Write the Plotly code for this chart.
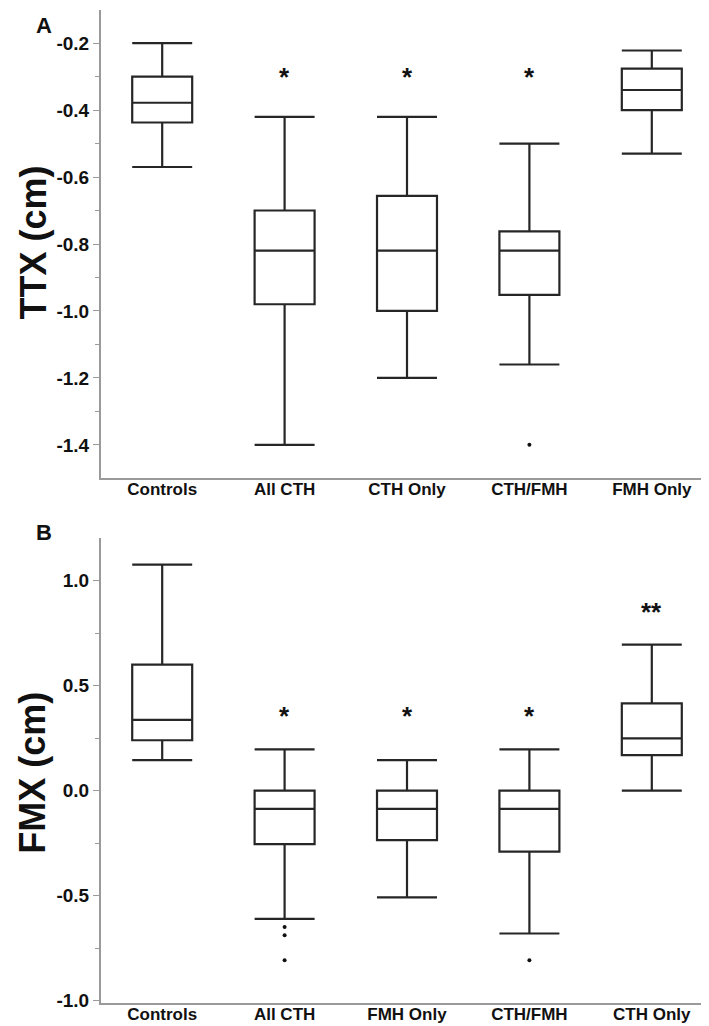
import plotly.graph_objects as go

# ---------------- Panel A data (TTX, cm) ----------------
cats_a = ["Controls", "All CTH", "CTH Only", "CTH/FMH", "FMH Only"]
lower_a = [-0.57, -1.40, -1.20, -1.16, -0.53]
q1_a = [-0.437, -0.98, -1.00, -0.952, -0.40]
med_a = [-0.378, -0.82, -0.82, -0.82, -0.34]
q3_a = [-0.30, -0.70, -0.656, -0.762, -0.276]
upper_a = [-0.20, -0.42, -0.42, -0.50, -0.222]
out_a_x = ["CTH/FMH"]
out_a_y = [-1.40]
sig_a = ["", "*", "*", "*", ""]
sig_y_a = [None, -0.30, -0.30, -0.30, None]
ytick_a = [-0.2, -0.4, -0.6, -0.8, -1.0, -1.2, -1.4]
ylab_a = ["-0.2", "-0.4", "-0.6", "-0.8", "-1.0", "-1.2", "-1.4"]

# ---------------- Panel B data (FMX, cm) ----------------
cats_b = ["Controls", "All CTH", "FMH Only", "CTH/FMH", "CTH Only"]
lower_b = [0.145, -0.61, -0.508, -0.68, 0.0]
q1_b = [0.24, -0.255, -0.236, -0.29, 0.169]
med_b = [0.337, -0.087, -0.087, -0.087, 0.249]
q3_b = [0.60, 0.0, 0.0, 0.0, 0.416]
upper_b = [1.076, 0.197, 0.145, 0.197, 0.695]
out_b_x = ["All CTH", "All CTH", "All CTH", "CTH/FMH"]
out_b_y = [-0.649, -0.689, -0.808, -0.808]
sig_b = ["", "*", "*", "*", "**"]
sig_y_b = [None, 0.355, 0.355, 0.355, 0.85]
ytick_b = [1.0, 0.5, 0.0, -0.5, -1.0]
ylab_b = ["1.0", "0.5", "0.0", "-0.5", "-1.0"]

LINE = "#262626"
AXIS = "#9a9a9a"
FONT = "Liberation Sans, Arial, sans-serif"

fig = go.Figure()


def add_boxes(cats, lo, q1, med, q3, hi, xa, ya):
    for i, c in enumerate(cats):
        fig.add_trace(go.Box(
            x=[c], q1=[q1[i]], median=[med[i]], q3=[q3[i]],
            lowerfence=[lo[i]], upperfence=[hi[i]],
            width=0.49, whiskerwidth=1,
            line=dict(color=LINE, width=2.2),
            fillcolor="rgba(0,0,0,0)",
            boxpoints=False, showlegend=False,
            xaxis=xa, yaxis=ya,
        ))


add_boxes(cats_a, lower_a, q1_a, med_a, q3_a, upper_a, "x", "y")
add_boxes(cats_b, lower_b, q1_b, med_b, q3_b, upper_b, "x2", "y2")

fig.add_trace(go.Scatter(x=out_a_x, y=out_a_y, mode="markers",
                         marker=dict(color="#111", size=4),
                         showlegend=False, xaxis="x", yaxis="y"))
fig.add_trace(go.Scatter(x=out_b_x, y=out_b_y, mode="markers",
                         marker=dict(color="#111", size=4),
                         showlegend=False, xaxis="x2", yaxis="y2"))

annotations = []
for c, s, yv in zip(cats_a, sig_a, sig_y_a):
    if s:
        annotations.append(dict(x=c, y=yv, xref="x", yref="y", text="<b>%s</b>" % s,
                                showarrow=False, yanchor="middle",
                                font=dict(family=FONT, size=26, color="#111")))
for c, s, yv in zip(cats_b, sig_b, sig_y_b):
    if s:
        annotations.append(dict(x=c, y=yv, xref="x2", yref="y2", text="<b>%s</b>" % s,
                                showarrow=False, yanchor="middle",
                                font=dict(family=FONT, size=26, color="#111")))

annotations += [
    dict(x=-0.111, y=0.766, xref="paper", yref="paper", text="<b>TTX (cm)</b>",
         textangle=-90, showarrow=False, xanchor="center", yanchor="middle",
         font=dict(family=FONT, size=36, color="#111")),
    dict(x=-0.111, y=0.232, xref="paper", yref="paper", text="<b>FMX (cm)</b>",
         textangle=-90, showarrow=False, xanchor="center", yanchor="middle",
         font=dict(family=FONT, size=36, color="#111")),
    dict(x=-0.093, y=0.984, xref="paper", yref="paper", text="<b>A</b>",
         showarrow=False, xanchor="center", yanchor="middle",
         font=dict(family=FONT, size=22, color="#111")),
    dict(x=-0.093, y=0.474, xref="paper", yref="paper", text="<b>B</b>",
         showarrow=False, xanchor="center", yanchor="middle",
         font=dict(family=FONT, size=22, color="#111")),
]

xaxis_common = dict(
    type="category", range=[-0.5, 4.5], showline=True, linecolor=AXIS,
    linewidth=2, ticks="", showgrid=False, zeroline=False,
    tickfont=dict(family=FONT, size=17, color="#111"),
    ticklabelstandoff=-5,
    automargin=False,
)
yaxis_common = dict(
    showline=True, linecolor=AXIS, linewidth=2, ticks="outside",
    ticklen=6, tickcolor=AXIS, tickwidth=1, showgrid=False, zeroline=False,
    tickfont=dict(family=FONT, size=19, color="#111"),
    automargin=False,
)

fig.update_layout(
    width=709, height=1026,
    margin=dict(l=93, r=4, t=2, b=31),
    paper_bgcolor="white", plot_bgcolor="white",
    boxmode="overlay",
    annotations=annotations,
    xaxis=dict(**xaxis_common, domain=[0, 1], anchor="y",
               categoryorder="array", categoryarray=cats_a,
               tickvals=cats_a, ticktext=["<b>%s</b>" % c for c in cats_a]),
    yaxis=dict(**yaxis_common, domain=[0.5287, 1.0], anchor="x",
               range=[-1.499, -0.101],
               tickvals=ytick_a, ticktext=["<b>%s</b>" % t for t in ylab_a],
               minor=dict(dtick=0.1, tick0=-0.2, ticks="outside", ticklen=4,
                          tickcolor=AXIS)),
    xaxis2=dict(**xaxis_common, domain=[0, 1], anchor="y2",
                categoryorder="array", categoryarray=cats_b,
                tickvals=cats_b, ticktext=["<b>%s</b>" % c for c in cats_b]),
    yaxis2=dict(**yaxis_common, domain=[0.0, 0.4683], anchor="x2",
                range=[-1.011, 1.203],
                tickvals=ytick_b, ticktext=["<b>%s</b>" % t for t in ylab_b],
                minor=dict(dtick=0.25, tick0=0, ticks="outside", ticklen=4,
                           tickcolor=AXIS)),
)

fig.write_html("out.html")
